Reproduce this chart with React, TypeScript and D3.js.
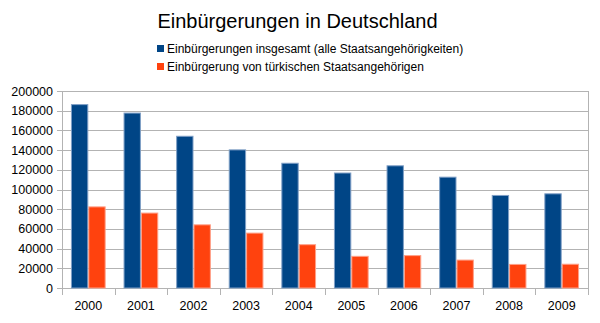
import React from "react";
import * as d3 from "d3";

const years = ["2000","2001","2002","2003","2004","2005","2006","2007","2008","2009"];
const totalValues = [186688,178098,154547,140731,127153,117241,124566,113030,94470,96122];
const turkishValues = [82861,76573,64631,56244,44465,32661,33388,28861,24449,24647];
const seriesNames = ["Einbürgerungen insgesamt (alle Staatsangehörigkeiten)","Einbürgerung von türkischen Staatsangehörigen"];
const yTicks = [0,20000,40000,60000,80000,100000,120000,140000,160000,180000,200000];

const W = 600, H = 323;
const left = 62, right = 588, top = 91, bottom = 288;
const colors = ["#004586", "#ff420e"];
const strokes = ["#7f9fc6", "#ffa088"];
const font = "'Liberation Sans', Arial, sans-serif";

export default function App() {
  const x = d3.scaleBand<string>().domain(years).range([left, right]);
  const y = d3.scaleLinear().domain([0, 200000]).range([bottom, top]);
  const barW = x.bandwidth() * 0.33;
  const series = [totalValues, turkishValues];
  return (
    <svg width={W} height={H} style={{ position: "absolute", left: 0, top: 0, background: "#fff" }}>
      <text x={297.5} y={28} textAnchor="middle" fontFamily={font} fontSize={20} fill="#000">Einbürgerungen in Deutschland</text>
      {seriesNames.map((n, i) => (
        <g key={n}>
          <rect x={157} y={45 + i * 18} width={7} height={7} fill={colors[i]} />
          <text x={167} y={53 + i * 18} fontFamily={font} fontSize={12} fill="#000">{n}</text>
        </g>
      ))}
      {yTicks.map(t => (
        <g key={t}>
          <line x1={left - 5} x2={right} y1={Math.round(y(t)) + 0.5} y2={Math.round(y(t)) + 0.5} stroke="#b3b3b3" />
          <text x={53} y={y(t) + 4.5} textAnchor="end" fontFamily={font} fontSize={12.5} fill="#000">{t}</text>
        </g>
      ))}
      <line x1={left + 0.5} x2={left + 0.5} y1={top} y2={bottom + 7} stroke="#b3b3b3" />
      <line x1={right + 0.5} x2={right + 0.5} y1={top} y2={bottom + 7} stroke="#b3b3b3" />
      {years.map((yr, i) => (
        <g key={yr}>
          {i > 0 && <line x1={Math.round(x(yr)!) + 0.5} x2={Math.round(x(yr)!) + 0.5} y1={bottom} y2={bottom + 7} stroke="#b3b3b3" />}
          <text x={x(yr)! + x.bandwidth() / 2} y={310} textAnchor="middle" fontFamily={font} fontSize={12.5} fill="#000">{yr}</text>
        </g>
      ))}
      {series.map((vals, s) => vals.map((v, i) => {
        const cx = x(years[i])! + x.bandwidth() / 2;
        const bx = cx - barW + s * barW;
        return (
          <rect key={s + "-" + i} x={bx + 0.5} y={y(v) + 0.5} width={barW - 1} height={bottom - y(v) - 0.5}
            fill={colors[s]} stroke={strokes[s]} strokeWidth={1} />
        );
      }))}
    </svg>
  );
}
